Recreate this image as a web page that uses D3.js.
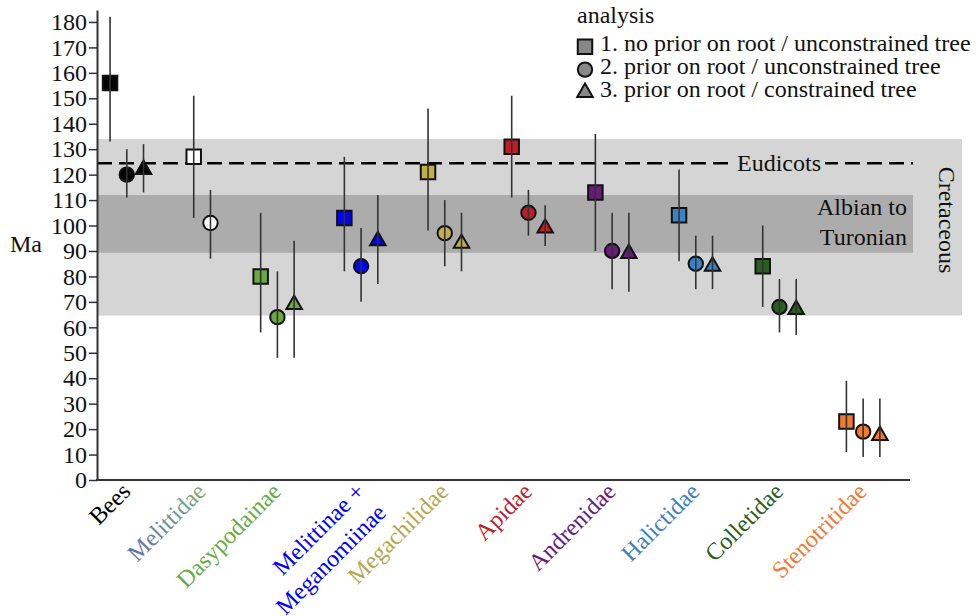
<!DOCTYPE html>
<html>
<head>
<meta charset="utf-8">
<script src="https://cdn.jsdelivr.net/npm/d3@7/dist/d3.min.js"></script>
<style>
  body { margin: 0; background: #fff; }
  svg { font-family: "Liberation Serif", "Times New Roman", serif; }
</style>
</head>
<body>
<div id="chart"></div>
<script>
// clades along the x axis
var groups = ["Bees", "Melittidae", "Dasypodainae", "Melittinae + Meganomiinae", "Megachilidae",
              "Apidae", "Andrenidae", "Halictidae", "Colletidae", "Stenotritidae"];
var labelColors = ["#000000", "#6f86a6", "#6aaa40", "#0000ff", "#b8a64e",
                   "#c01c28", "#6a1a7a", "#3b82c4", "#2b5e22", "#f47a30"];
var markerFills = ["#000000", "#ffffff", "#6aaa40", "#0000ff", "#c2ae4a",
                   "#c01c28", "#6a1a7a", "#3b82c4", "#2b5e22", "#f47a30"];

// analysis 1: no prior on root / unconstrained tree
var est1 = [156, 127, 80, 103, 121, 131, 113, 104, 84, 23];
var lo1  = [133, 103, 58,  82,  98, 111,  90,  86, 68, 11];
var hi1  = [182, 151, 105, 127, 146, 151, 136, 122, 100, 39];
// analysis 2: prior on root / unconstrained tree
var est2 = [120, 101, 64, 84, 97, 105, 90, 85, 68, 19];
var lo2  = [111,  87, 48, 70, 84,  96, 75, 75, 58,  9];
var hi2  = [130, 114, 82, 99, 110, 114, 105, 96, 79, 32];
// analysis 3: prior on root / constrained tree (none for Melittidae)
var est3 = [122, null, 69, 94, 93, 99, 89, 84, 67, 17.5];
var lo3  = [113, null, 48, 77, 82, 92, 74, 75, 57, 9];
var hi3  = [132, null, 94, 112, 105, 108, 105, 96, 79, 32];

var analysisNames = ["1. no prior on root / unconstrained tree",
                     "2. prior on root / unconstrained tree",
                     "3. prior on root / constrained tree"];

// time intervals shown as bands / reference line
var cretaceous = [64.6, 134];
var albianTuronian = [89.3, 112];
var eudicots = 124.5;

var yTicks = d3.range(0, 181, 10);

var width = 979, height = 616;
var plotLeft = 97, plotRight = 910, plotTop = 10, plotBottom = 480;
var fs = 24;

var svg = d3.select('#chart').append('svg')
  .attr('width', width).attr('height', height);

var y = d3.scaleLinear().domain([0, 184.7]).range([plotBottom, plotTop]);

// lay the points out in slots: one slot per analysis, two empty slots between clades
var points = [], centers = [], slot = 0;
var series = [[est1, lo1, hi1], [est2, lo2, hi2], [est3, lo3, hi3]];
groups.forEach(function(g, i){
  var first = slot;
  series.forEach(function(s, k){
    if (s[0][i] == null) return;
    points.push({g: i, k: k, slot: slot, v: s[0][i], lo: s[1][i], hi: s[2][i]});
    slot++;
  });
  centers.push((first + slot - 1) / 2);
  slot += 2;
});
var x = d3.scaleLinear().domain([-0.78, 47.8]).range([plotLeft, plotRight]);

// bands
svg.append('rect')
  .attr('x', plotLeft).attr('width', 962 - plotLeft)
  .attr('y', y(cretaceous[1])).attr('height', y(cretaceous[0]) - y(cretaceous[1]))
  .attr('fill', '#d5d5d5');
svg.append('rect')
  .attr('x', plotLeft).attr('width', 913 - plotLeft)
  .attr('y', y(albianTuronian[1])).attr('height', y(albianTuronian[0]) - y(albianTuronian[1]))
  .attr('fill', '#acacac');

svg.append('text')
  .attr('transform', 'translate(939,220) rotate(90)')
  .attr('text-anchor', 'middle')
  .attr('font-size', fs).attr('fill', '#111')
  .text('Cretaceous');

var at = svg.append('text')
  .attr('text-anchor', 'end').attr('font-size', fs).attr('fill', '#111');
at.append('tspan').attr('x', 907).attr('y', 215).text('Albian to');
at.append('tspan').attr('x', 907).attr('y', 245).text('Turonian');

// eudicots dashed line
svg.append('line')
  .attr('x1', plotLeft).attr('x2', 913)
  .attr('y1', y(eudicots)).attr('y2', y(eudicots))
  .attr('stroke', '#000').attr('stroke-width', 2.6)
  .attr('stroke-dasharray', '15,7');
svg.append('rect')
  .attr('x', 732).attr('width', 93)
  .attr('y', y(eudicots) - 5).attr('height', 10)
  .attr('fill', '#d5d5d5');
svg.append('text')
  .attr('x', 779).attr('y', y(eudicots) + 7.5)
  .attr('text-anchor', 'middle').attr('font-size', fs).attr('fill', '#111')
  .text('Eudicots');

// markers
var shapes = [d3.symbolSquare, d3.symbolCircle, d3.symbolTriangle];
var shapeSizes = [210, 163, 104];
var sym = function(k){ return d3.symbol().type(shapes[k]).size(shapeSizes[k])(); };

svg.selectAll('path.marker').data(points).enter()
  .append('path')
  .attr('class', 'marker')
  .attr('transform', function(d){ return 'translate(' + x(d.slot) + ',' + y(d.v) + ')'; })
  .attr('d', function(d){ return sym(d.k); })
  .attr('fill', function(d){ return markerFills[d.g]; })
  .attr('stroke', '#111').attr('stroke-width', 2);

// error bars drawn on top of the markers
svg.selectAll('line.err').data(points).enter()
  .append('line')
  .attr('class', 'err')
  .attr('x1', function(d){ return x(d.slot); })
  .attr('x2', function(d){ return x(d.slot); })
  .attr('y1', function(d){ return y(d.hi); })
  .attr('y2', function(d){ return y(d.lo); })
  .attr('stroke', '#333').attr('stroke-width', 1.6);

// axes
var yAxis = d3.axisLeft(y).tickValues(yTicks).tickSize(8).tickSizeOuter(0).tickPadding(2);
var gy = svg.append('g')
  .attr('transform', 'translate(' + plotLeft + ',0)')
  .call(yAxis);
gy.attr('font-family', null).attr('font-size', null);
gy.select('.domain').attr('stroke', '#333').attr('stroke-width', 2);
gy.selectAll('.tick line').attr('stroke', '#333').attr('stroke-width', 1.5);
gy.selectAll('.tick text')
  .attr('font-size', fs).attr('fill', '#111');

svg.append('line')
  .attr('x1', plotLeft - 1).attr('x2', plotRight)
  .attr('y1', plotBottom).attr('y2', plotBottom)
  .attr('stroke', '#333').attr('stroke-width', 2);

svg.append('text')
  .attr('x', 10).attr('y', 252)
  .attr('font-size', fs).attr('fill', '#111')
  .text('Ma');

// gradient label for Melittidae
var defs = svg.append('defs');
var grad = defs.append('linearGradient').attr('id', 'melGrad')
  .attr('x1', 0).attr('x2', 1).attr('y1', 0).attr('y2', 0);
grad.append('stop').attr('offset', '0%').attr('stop-color', '#5f70ad');
grad.append('stop').attr('offset', '100%').attr('stop-color', '#7fae78');

// x labels
var labels = svg.selectAll('text.xlab').data(groups).enter()
  .append('text')
  .attr('class', 'xlab')
  .attr('transform', function(d, i){ return 'translate(' + (x(centers[i]) + 5) + ',493) rotate(-45)'; })
  .attr('text-anchor', 'end')
  .attr('font-size', fs)
  .attr('fill', function(d, i){ return i == 1 ? 'url(#melGrad)' : labelColors[i]; });
labels.each(function(d){
  var lines = d.split(' + ');
  var t = d3.select(this);
  if (lines.length == 1) { t.text(d); return; }
  t.append('tspan').attr('x', 0).attr('dy', 0).text(lines[0] + ' +');
  t.append('tspan').attr('x', 0).attr('dy', '1.25em').text(lines[1]);
});

// legend
svg.append('text').attr('x', 577).attr('y', 23)
  .attr('font-size', fs).attr('fill', '#111').text('analysis');
var legend = svg.selectAll('g.leg').data(analysisNames).enter()
  .append('g').attr('class', 'leg')
  .attr('transform', function(d, i){ return 'translate(585,' + (46.7 + i * 22.9) + ')'; });
legend.append('path')
  .attr('d', function(d, i){ return sym(i); })
  .attr('fill', '#888').attr('stroke', '#111').attr('stroke-width', 2);
legend.append('text')
  .attr('x', 15).attr('y', 4.5)
  .attr('font-size', fs).attr('fill', '#111')
  .text(function(d){ return d; });
</script>
</body>
</html>
